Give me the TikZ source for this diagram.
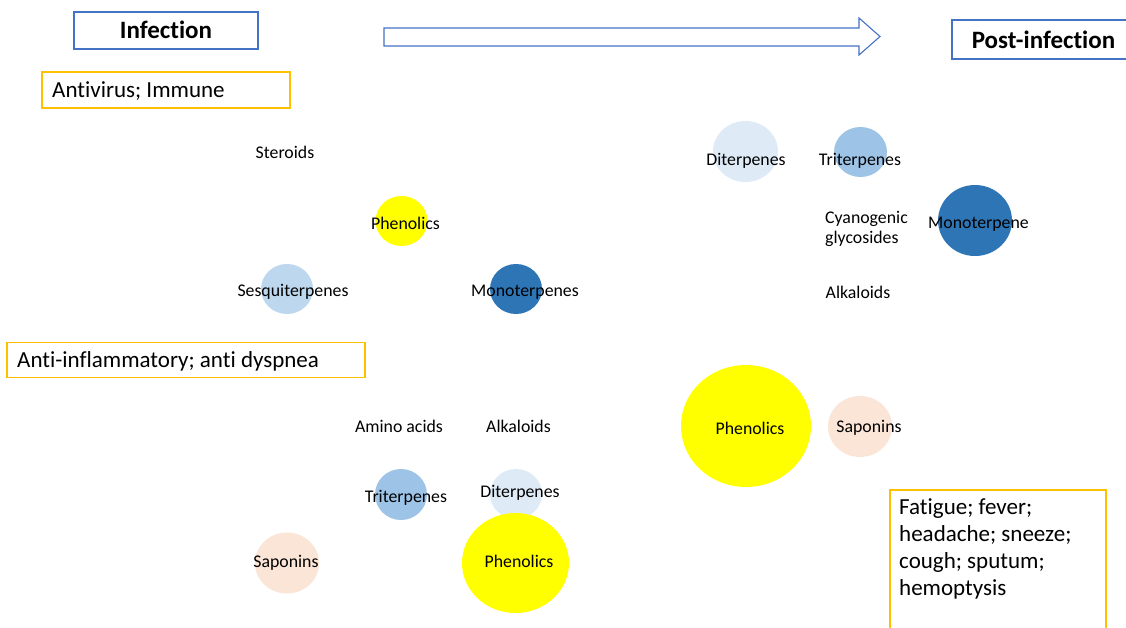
\documentclass[tikz,border=0pt]{standalone}
\usepackage{fontspec}
\setmainfont[Ligatures=NoCommon]{Carlito}
\usetikzlibrary{shapes.geometric}
\definecolor{boxblue}{HTML}{4472C4}
\definecolor{boxorange}{HTML}{FFC000}
\definecolor{cyel}{HTML}{FFFF00}
\definecolor{cmono}{HTML}{2E75B6}
\definecolor{ctri}{HTML}{9DC3E6}
\definecolor{cdi}{HTML}{DEEBF7}
\definecolor{cses}{HTML}{BDD7EE}
\definecolor{csap}{HTML}{FBE5D6}
\tikzset{
  blob/.style={ellipse, inner sep=0pt, draw=none},
  lbl/.style={anchor=base, inner sep=0pt, font=\fontsize{17.8}{20.5}\selectfont},
  titlebox/.style={draw=boxblue, line width=1.1pt, fill=white, inner sep=0pt},
  notebox/.style={draw=boxorange, line width=1.1pt, fill=white, inner sep=0pt},
  titletxt/.style={anchor=base, inner sep=0pt, font=\fontsize{25}{28}\selectfont\bfseries},
  notetxt/.style={anchor=base west, inner sep=0pt, font=\fontsize{23}{26.5}\selectfont},
  arrowline/.style={draw=boxblue, line width=1.1pt, fill=white, line join=miter}
}
\begin{document}
\begin{tikzpicture}[x=1pt,y=-1pt]
\useasboundingbox (0,0) rectangle (1126,627);
\fill[white] (0,0) rectangle (1126,627);

% header boxes
\node[titlebox, minimum width=184pt, minimum height=37pt] (infbox) at (166,30.5) {};
\node[titletxt] (inftxt) at (166,38.5) {Infection};
\node[titlebox, minimum width=180pt, minimum height=39pt] (postbox) at (1042,39.5) {};
\node[titletxt] (posttxt) at (1043.5,48) {Post-infection};

% block arrow
\coordinate (a1) at (384,28);
\coordinate (a2) at (859,28);
\coordinate (a3) at (859,18);
\coordinate (a4) at (880,36.5);
\coordinate (a5) at (859,55);
\coordinate (a6) at (859,46);
\coordinate (a7) at (384,46);
\draw[arrowline] (a1) -- (a2) -- (a3) -- (a4) -- (a5) -- (a6) -- (a7) -- cycle;

% note boxes
\node[notebox, minimum width=248pt, minimum height=36pt] (antibox) at (166,90) {};
\node[notetxt] (antitxt) at (52,97.5) {Antivirus; Immune};
\node[notebox, minimum width=358pt, minimum height=35pt] (inflbox) at (186,360) {};
\node[notetxt] (infltxt) at (17,367.5) {Anti-inflammatory; anti dyspnea};
\node[notebox, minimum width=216pt, minimum height=150pt] (fatbox) at (998,565) {};
\node[notetxt] (fattxt) at (899,514) {\parbox[t]{200pt}{\fontsize{23}{27.3}\selectfont Fatigue; fever;\\headache; sneeze;\\cough; sputum;\\hemoptysis}};

% circles (infection, top)
\node[blob, fill=cyel, minimum width=52pt, minimum height=50pt] (c1) at (401.5,221) {};
\node[blob, fill=cses, minimum width=52pt, minimum height=50pt] (c2) at (287,289) {};
\node[blob, fill=cmono, minimum width=52pt, minimum height=50pt] (c3) at (516,289) {};
% circles (infection, bottom)
\node[blob, fill=ctri, minimum width=52pt, minimum height=51pt] (c4) at (401,494.5) {};
\node[blob, fill=cdi, minimum width=52pt, minimum height=50pt] (c5) at (516,494) {};
\node[blob, fill=csap, minimum width=64pt, minimum height=61pt] (c6) at (287,563) {};
\node[blob, fill=cyel, minimum width=107pt, minimum height=100pt] (c7) at (515.5,563) {};
% circles (post-infection)
\node[blob, fill=cdi, minimum width=65pt, minimum height=61pt] (c8) at (745.5,151.5) {};
\node[blob, fill=ctri, minimum width=53pt, minimum height=50pt] (c9) at (860.5,152) {};
\node[blob, fill=cmono, minimum width=74pt, minimum height=71pt] (c10) at (975,220.5) {};
\node[blob, fill=cyel, minimum width=130pt, minimum height=122pt] (c11) at (746,426) {};
\node[blob, fill=csap, minimum width=64pt, minimum height=61pt] (c12) at (860,426.5) {};

% labels
\node[lbl] (t1) at (285,158) {Steroids};
\node[lbl] (t2) at (405.5,229) {Phenolics};
\node[lbl] (t3) at (293,296) {Sesquiterpenes};
\node[lbl] (t4) at (525,296) {Monoterpenes};
\node[lbl] (t5) at (399,432) {Amino acids};
\node[lbl] (t6) at (518.5,432) {Alkaloids};
\node[lbl] (t7) at (406,502) {Triterpenes};
\node[lbl] (t8) at (520,497) {Diterpenes};
\node[lbl] (t9) at (286,567) {Saponins};
\node[lbl] (t10) at (519,567) {Phenolics};
\node[lbl] (t11) at (746,165) {Diterpenes};
\node[lbl] (t12) at (860,165) {Triterpenes};
\node[lbl, anchor=base west] (t13) at (825,223) {\parbox[t]{100pt}{\fontsize{17.8}{20.5}\selectfont Cyanogenic\\glycosides}};
\node[lbl] (t14) at (978.5,228) {Monoterpene};
\node[lbl] (t15) at (858,298) {Alkaloids};
\node[lbl] (t16) at (750,434) {Phenolics};
\node[lbl] (t17) at (869,432) {Saponins};
\end{tikzpicture}
\end{document}
